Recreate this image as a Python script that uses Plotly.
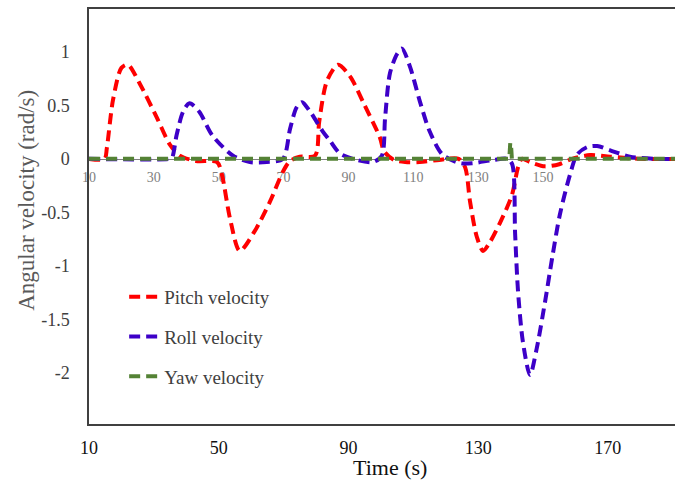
import plotly.graph_objects as go

# ---- data ----
pitch_t = [10, 14.8, 15.5, 17.4, 20, 22, 25.7, 31, 35, 38, 43, 49.5, 51, 53.5, 56.5,
           61, 65.8, 69.8, 72, 75, 79.7, 81, 83.4, 86.8, 90.5, 95, 99.7, 101, 104,
           107.5, 112, 118, 124, 126, 127.5, 129.6, 131.5, 133.6, 136.7, 140.4, 142.3,
           143.5, 146, 150.6, 155, 159, 164.5, 170.7, 180, 192]
pitch_v = [0, 0, 0.1, 0.55, 0.85, 0.88, 0.7, 0.38, 0.13, 0.03, -0.02, -0.03, -0.15, -0.56, -0.86,
           -0.68, -0.4, -0.12, -0.02, 0.02, 0.03, 0.35, 0.73, 0.88, 0.77, 0.5, 0.2, 0.07, -0.01,
           -0.03, -0.03, -0.01, 0, -0.08, -0.4, -0.73, -0.86, -0.78, -0.6, -0.34, -0.08,
           0, -0.03, -0.07, -0.05, 0, 0.035, 0.02, 0, 0]

roll_t = [10, 34.8, 35.6, 37, 39, 41, 44, 48, 54.4, 59.6, 64.8, 69.8, 72, 74, 75.7, 78, 82,
          84.3, 87.4, 92.6, 97.6, 100.3, 101.3, 102.8, 105, 106.5, 109, 112, 115, 119,
          124.4, 128.4, 134.6, 139, 140.5, 141.4, 142.3, 143.8, 146, 148, 150.6, 152.8,
          155.2, 158.3, 160.5, 163.6, 166.7, 170.7, 176.8, 185, 192]
roll_v = [0, 0, 0.01, 0.22, 0.44, 0.52, 0.44, 0.22, 0.03, -0.03, -0.03, 0, 0.28, 0.48, 0.53, 0.45, 0.26,
          0.17, 0.05, -0.01, -0.03, 0.03, 0.38, 0.8, 0.98, 1.03, 0.86, 0.54, 0.26, 0.04,
          -0.04, -0.04, -0.01, 0, -0.05, -0.7, -1.24, -1.71, -2.02, -1.78, -1.34, -0.93,
          -0.52, -0.15, 0.04, 0.11, 0.12, 0.08, 0.02, 0, 0]

yaw_t = [10, 139.6, 139.9, 140.1, 140.4, 192]
yaw_v = [0, 0, 0.15, 0.15, 0, 0]

inner_ticks = [10, 30, 50, 70, 90, 110, 130, 150]
bottom_ticks = [10, 50, 90, 130, 170]
y_ticks = [-2, -1.5, -1, -0.5, 0, 0.5, 1]
y_labels = ["-2", "-1.5", "-1", "-0.5", "0", "0.5", "1"]

X_RANGE = [10, 190.7]
Y_RANGE = [-2.477, 1.40]

FONT = "Liberation Serif"
RED = "#ff0000"
BLUE = "#3d00c8"
GREEN = "#548235"
DASH = "11px,6px"

fig = go.Figure()
fig.add_trace(go.Scatter(x=pitch_t, y=pitch_v, mode="lines", name="Pitch velocity",
                         legendgroup="p", line=dict(color=RED, width=4, dash=DASH,
                                                    shape="spline", smoothing=0.8)))
fig.add_trace(go.Scatter(x=roll_t, y=roll_v, mode="lines", name="Roll velocity",
                         legendgroup="r", line=dict(color=BLUE, width=4, dash=DASH,
                                                    shape="spline", smoothing=0.8)))
fig.add_trace(go.Scatter(x=yaw_t, y=yaw_v, mode="lines", name="Yaw velocity",
                         legendgroup="y", line=dict(color=GREEN, width=4, dash=DASH)))
# invisible helper trace so the inner (zero-crossing) axis is drawn
fig.add_trace(go.Scatter(x=X_RANGE, y=[0, 0], xaxis="x2", mode="lines",
                         line=dict(color="rgba(0,0,0,0)"), showlegend=False,
                         hoverinfo="skip"))

zero_pos = (0 - Y_RANGE[0]) / (Y_RANGE[1] - Y_RANGE[0])

fig.update_layout(
    width=675, height=484,
    margin=dict(l=89, r=0, t=9, b=60, autoexpand=False),
    paper_bgcolor="white", plot_bgcolor="white",
    font=dict(family=FONT, color="#404040"),
    showlegend=True,
    legend=dict(x=0.06, y=0.352, xanchor="left", yanchor="top",
                bgcolor="rgba(0,0,0,0)", tracegroupgap=12,
                font=dict(family=FONT, size=19, color="#404040")),
    xaxis=dict(range=X_RANGE, tickvals=bottom_ticks, ticktext=[str(v) for v in bottom_ticks],
               showgrid=False, zeroline=False, showline=True, linecolor="#404040",
               linewidth=1.5, mirror=True, ticks="", ticklabelstandoff=7, automargin=False,
               tickfont=dict(family=FONT, size=18, color="#111111")),
    xaxis2=dict(range=X_RANGE, overlaying="x", anchor="free", position=zero_pos,
                side="bottom", tickvals=inner_ticks, ticktext=[str(v) for v in inner_ticks],
                showgrid=False, zeroline=False, showline=True, linecolor="#808080",
                linewidth=1, ticks="", layer="below traces", ticklabelstandoff=5,
                automargin=False,
                tickfont=dict(family=FONT, size=14, color="#808080")),
    yaxis=dict(range=Y_RANGE, tickvals=y_ticks, ticktext=y_labels, showgrid=False,
               zeroline=False, showline=True, linecolor="#404040", linewidth=1.5,
               ticks="", ticklabelstandoff=14, automargin=False,
               tickfont=dict(family=FONT, size=18, color="#404040")),
    annotations=[
        dict(text="Time (s)", xref="paper", yref="paper", x=0.514, y=-0.104,
             xanchor="center", yanchor="middle", showarrow=False,
             font=dict(family=FONT, size=22, color="#111111")),
        dict(text="Angular velocity (rad/s)", xref="paper", yref="paper", x=-0.106, y=0.54,
             xanchor="center", yanchor="middle", showarrow=False, textangle=-90,
             font=dict(family=FONT, size=23, color="#595959")),
    ],
)

fig.write_html("out.html", config={"displayModeBar": False},
               post_script="document.body.style.margin='0';document.body.style.overflow='hidden';")
